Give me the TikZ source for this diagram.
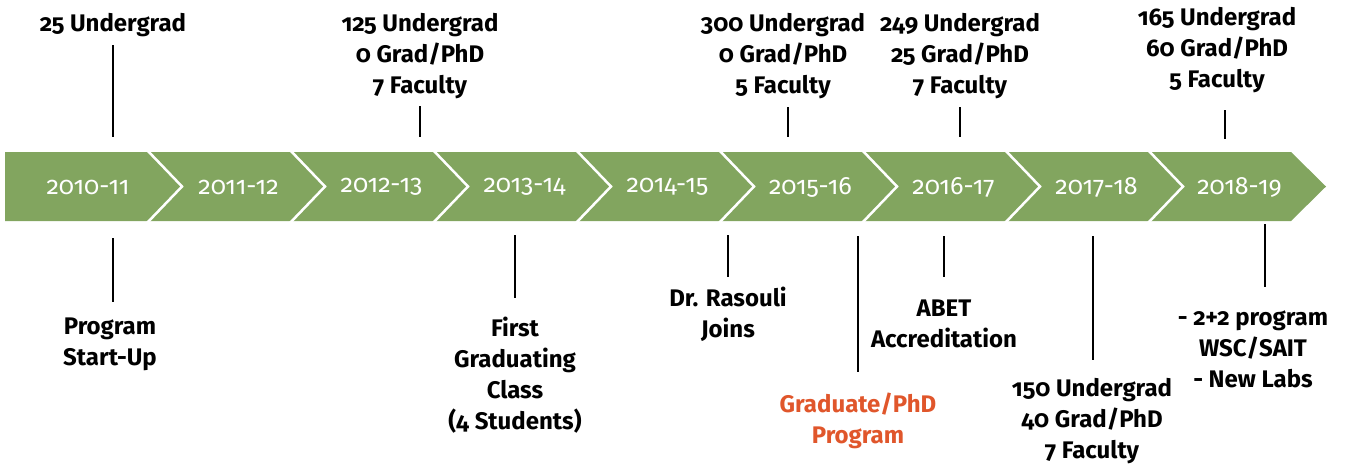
\documentclass[tikz,border=0pt]{standalone}
\usepackage{fontspec}
\setmainfont{Fira Sans}[Numbers=OldStyle]
\definecolor{band}{HTML}{82A55F}
\definecolor{orangetxt}{HTML}{E0562B}
\begin{document}
\begin{tikzpicture}[x=1pt,y=-1pt,
  yr/.style={text=white,font=\fontsize{25}{29}\selectfont,inner sep=0pt},
  lab/.style={align=center,font=\bfseries\fontsize{24}{31}\selectfont,inner sep=0pt},
  tick/.style={black,line width=1.1pt}]
\useasboundingbox (0,0) rectangle (1352,464);
% chevrons
\fill[band] (5,152) -- (147,152) -- (182,186.5) -- (147,221) -- (5,221) -- cycle;
\foreach \k in {1,...,8}{
  \pgfmathsetmacro{\L}{147+143*(\k-1)}
  \pgfmathsetmacro{\B}{147+143*\k}
  \fill[band] (\L,152) -- (\B,152) -- (\B+35,186.5) -- (\B,221) -- (\L,221) -- (\L+35,186.5) -- cycle;
}
\foreach \k in {1,...,8}{
  \pgfmathsetmacro{\L}{147+143*(\k-1)}
  \draw[white,line width=2.5pt] (\L,150) -- (\L+35,186.5) -- (\L,223);
}
% year labels
\node[yr] (y0) at (88,187) {2010-11};
\node[yr] (y1) at (238.5,187) {2011-12};
\node[yr] (y2) at (381.5,187) {2012-13};
\node[yr] (y3) at (524.5,187) {2013-14};
\node[yr] (y4) at (667.5,187) {2014-15};
\node[yr] (y5) at (810.5,187) {2015-16};
\node[yr] (y6) at (953.5,187) {2016-17};
\node[yr] (y7) at (1096.5,187) {2017-18};
\node[yr] (y8) at (1239.5,187) {2018-19};
% top labels
\node[lab,anchor=north] (t0) at (113,13) {25 Undergrad};
\node[lab,anchor=north] (t2) at (420,13) {125 Undergrad\\0 Grad/PhD\\7 Faculty};
\node[lab,anchor=north] (t5) at (783,13) {300 Undergrad\\0 Grad/PhD\\5 Faculty};
\node[lab,anchor=north] (t6) at (960,13) {249 Undergrad\\25 Grad/PhD\\7 Faculty};
\node[lab,anchor=north] (t8) at (1217,7) {165 Undergrad\\60 Grad/PhD\\5 Faculty};
% bottom labels
\node[lab,anchor=north] (b0) at (110,318) {Program\\Start-Up};
\node[lab,anchor=north] (b3) at (515,317) {First\\Graduating\\Class\\(4 Students)};
\node[lab,anchor=north] (b4) at (728,287) {Dr. Rasouli\\Joins};
\node[lab,anchor=north,text=orangetxt] (b5) at (858,393) {Graduate/PhD\\Program};
\node[lab,anchor=north] (b6) at (944,300) {ABET\\Accreditation};
\node[lab,anchor=north] (b7) at (1092,378) {150 Undergrad\\40 Grad/PhD\\7 Faculty};
\node[lab,anchor=north] (b8) at (1253,310) {- 2+2 program\\WSC/SAIT\\- New Labs};
% tick coordinates
\coordinate (a0) at (113,45);  \coordinate (a0e) at (113,137);
\coordinate (a2) at (420,106); \coordinate (a2e) at (420,137);
\coordinate (a5) at (788,107); \coordinate (a5e) at (788,137);
\coordinate (a6) at (960,107); \coordinate (a6e) at (960,137);
\coordinate (a8) at (1225,110); \coordinate (a8e) at (1225,139);
\coordinate (c0) at (113,238); \coordinate (c0e) at (113,302);
\coordinate (c3) at (515,235); \coordinate (c3e) at (515,298);
\coordinate (c4) at (728,235); \coordinate (c4e) at (728,277);
\coordinate (c5) at (858,236); \coordinate (c5e) at (858,372);
\coordinate (c6) at (944,236); \coordinate (c6e) at (944,277);
\coordinate (c7) at (1093,236); \coordinate (c7e) at (1093,360);
\coordinate (c8) at (1265,224); \coordinate (c8e) at (1265,287);
\foreach \p in {a0,a2,a5,a6,a8,c0,c3,c4,c5,c6,c7,c8}{\draw[tick] (\p) -- (\p e);}
\end{tikzpicture}
\end{document}
